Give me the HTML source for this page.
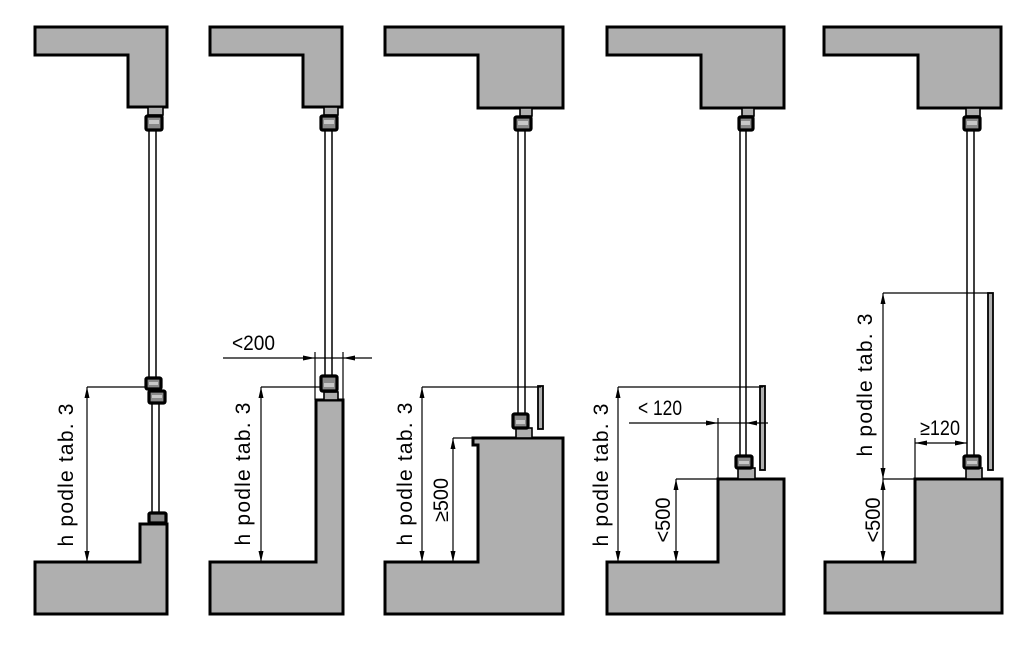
<!DOCTYPE html>
<html><head><meta charset="utf-8"><style>
html,body{margin:0;padding:0;background:#fff;}
svg{display:block;}
text{font-family:"Liberation Sans","DejaVu Sans",sans-serif;font-size:21px;fill:#000;}
</style></head><body>
<svg width="1024" height="647" viewBox="0 0 1024 647" xmlns="http://www.w3.org/2000/svg">
<g fill="#afafaf" stroke="#000" stroke-width="3" stroke-linejoin="miter">
<!-- panel 1 -->
<polygon points="35,27 167,27 167,107 128,107 128,55 35,55"/>
<polygon points="35,562 140,562 140,524 167,524 167,614 35,614"/>
<!-- panel 2 -->
<polygon points="210,27 342,27 342,107 303,107 303,55 210,55"/>
<polygon points="210,562 316,562 316,400 343,400 343,614 210,614"/>
<!-- panel 3 -->
<polygon points="385,27 563,27 563,108 478,108 478,55 385,55"/>
<polygon points="385,562 478,562 478,445 473,445 473,438 563,438 563,614 385,614"/>
<!-- panel 4 -->
<polygon points="607,27 784,27 784,108 701,108 701,55 607,55"/>
<polygon points="607,562 718,562 718,479 784,479 784,614 607,614"/>
<!-- panel 5 -->
<polygon points="824,27 1001,27 1001,108 918,108 918,55 824,55"/>
<polygon points="825,562 915,562 915,479 1002,479 1002,613 825,613"/>
</g>

<!-- glass lines -->
<g stroke="#000" stroke-width="1.5" fill="none">
<line x1="149" y1="131" x2="149" y2="377"/><line x1="156" y1="131" x2="156" y2="377"/>
<line x1="152" y1="404" x2="152" y2="513"/><line x1="159" y1="404" x2="159" y2="513"/>
<line x1="325" y1="131" x2="325" y2="376"/><line x1="332" y1="131" x2="332" y2="376"/>
<line x1="518" y1="131" x2="518" y2="414"/><line x1="525" y1="131" x2="525" y2="414"/>
<line x1="740" y1="131" x2="740" y2="456"/><line x1="746" y1="131" x2="746" y2="456"/>
<line x1="967" y1="131" x2="967" y2="456"/><line x1="974" y1="131" x2="974" y2="456"/>
</g>

<!-- frames: grey blocks -->
<g fill="#afafaf" stroke="#000" stroke-width="1.6">
<rect x="148" y="107" width="15" height="8"/>
<rect x="324" y="107" width="14" height="8"/>
<rect x="520" y="108" width="12" height="8"/>
<rect x="742" y="108" width="12" height="8"/>
<rect x="966" y="108" width="14" height="8"/>
<rect x="324" y="392" width="14" height="8"/>
<rect x="516" y="428" width="16" height="10"/>
<rect x="738" y="468" width="17" height="11"/>
<rect x="966" y="468" width="16" height="11"/>
<rect x="150" y="516" width="15" height="8"/>
</g>

<!-- sashes (dark) -->
<g fill="#8a8a8a" stroke="#000" stroke-width="3.2">
<rect x="146" y="116" width="16" height="14" rx="1.5"/>
<rect x="321" y="116" width="16" height="14" rx="1.5"/>
<rect x="515" y="117" width="16" height="13" rx="1.5"/>
<rect x="739" y="117" width="14" height="13" rx="1.5"/>
<rect x="964" y="117" width="16" height="13" rx="1.5"/>
<rect x="146" y="378" width="15" height="11" rx="1.5"/>
<rect x="149" y="391" width="16" height="12" rx="1.5"/>
<rect x="149" y="513" width="17" height="10" rx="1.5"/>
<rect x="321" y="376" width="16" height="15" rx="1.5"/>
<rect x="513" y="414" width="15" height="14" rx="1.5"/>
<rect x="736" y="456" width="16" height="12" rx="1.5"/>
<rect x="964" y="456" width="16" height="12" rx="1.5"/>
</g>
<g fill="#c8c8c8" stroke="none">
<rect x="149" y="120" width="10" height="4"/>
<rect x="324" y="120" width="10" height="4"/>
<rect x="518" y="121" width="10" height="4"/>
<rect x="741" y="121" width="9" height="4"/>
<rect x="967" y="121" width="10" height="4"/>
<rect x="149" y="382" width="9" height="3"/>
<rect x="152" y="395" width="10" height="3"/>
<rect x="324" y="383" width="10" height="4"/>
<rect x="516" y="420" width="9" height="4"/>
<rect x="739" y="461" width="10" height="3"/>
<rect x="967" y="461" width="10" height="3"/>
</g>

<!-- rails -->
<g fill="#afafaf" stroke="#000" stroke-width="1.8">
<rect x="538" y="386" width="5" height="43"/>
<rect x="760" y="386" width="5" height="84"/>
<rect x="988" y="293" width="5" height="177"/>
</g>

<!-- dimension lines -->
<g stroke="#000" stroke-width="1.2" fill="none">
<line x1="87" y1="387" x2="87" y2="562"/>
<line x1="87" y1="387" x2="146" y2="387"/>
<line x1="261" y1="387" x2="261" y2="562"/>
<line x1="261" y1="387" x2="321" y2="387"/>
<line x1="223" y1="358" x2="372" y2="358"/>
<line x1="315" y1="352" x2="315" y2="400"/>
<line x1="343" y1="352" x2="343" y2="400"/>
<line x1="422" y1="387" x2="422" y2="562"/>
<line x1="422" y1="387" x2="541" y2="387"/>
<line x1="453" y1="438" x2="453" y2="562"/>
<line x1="453" y1="438" x2="473" y2="438"/>
<line x1="618" y1="387" x2="618" y2="562"/>
<line x1="618" y1="387" x2="763" y2="387"/>
<line x1="629" y1="423" x2="768" y2="423"/>
<line x1="718" y1="418" x2="718" y2="479"/>
<line x1="676" y1="479" x2="676" y2="562"/>
<line x1="676" y1="479" x2="718" y2="479"/>
<line x1="883" y1="293" x2="883" y2="562"/>
<line x1="883" y1="293" x2="990" y2="293"/>
<line x1="883" y1="479" x2="915" y2="479"/>
<line x1="915" y1="443" x2="967" y2="443"/>
<line x1="915" y1="438" x2="915" y2="479"/>
</g>

<!-- arrowheads -->
<g fill="#000" stroke="none">
<polygon points="87,387 84.5,398 89.5,398"/>
<polygon points="87,562 84.5,551 89.5,551"/>
<polygon points="261,387 258.5,398 263.5,398"/>
<polygon points="261,562 258.5,551 263.5,551"/>
<polygon points="315,358 303,355.5 303,360.5"/>
<polygon points="343,358 355,355.5 355,360.5"/>
<polygon points="422,387 419.5,398 424.5,398"/>
<polygon points="422,562 419.5,551 424.5,551"/>
<polygon points="453,438 450.5,449 455.5,449"/>
<polygon points="453,562 450.5,551 455.5,551"/>
<polygon points="618,387 615.5,398 620.5,398"/>
<polygon points="618,562 615.5,551 620.5,551"/>
<polygon points="718,423 706,420.5 706,425.5"/>
<polygon points="746,423 757,420.5 757,425.5"/>
<polygon points="676,479 673.5,490 678.5,490"/>
<polygon points="676,562 673.5,551 678.5,551"/>
<polygon points="883,293 880.5,304 885.5,304"/>
<polygon points="883,479 880.5,468 885.5,468"/>
<polygon points="883,479 880.5,490 885.5,490"/>
<polygon points="883,562 880.5,551 885.5,551"/>
<polygon points="915,443 927,440.5 927,445.5"/>
<polygon points="967,443 955,440.5 955,445.5"/>
</g>

<!-- labels -->
<text transform="translate(73,475) rotate(-90)" text-anchor="middle" textLength="143" lengthAdjust="spacing">h podle tab. 3</text>
<text transform="translate(250,474) rotate(-90)" text-anchor="middle" textLength="143" lengthAdjust="spacing">h podle tab. 3</text>
<text transform="translate(412,474) rotate(-90)" text-anchor="middle" textLength="143" lengthAdjust="spacing">h podle tab. 3</text>
<text transform="translate(608,475) rotate(-90)" text-anchor="middle" textLength="143" lengthAdjust="spacing">h podle tab. 3</text>
<text transform="translate(872,385) rotate(-90)" text-anchor="middle" textLength="143" lengthAdjust="spacing">h podle tab. 3</text>

<text transform="translate(448,500) rotate(-90)" text-anchor="middle" textLength="44" lengthAdjust="spacingAndGlyphs">≥500</text>
<text transform="translate(670,520) rotate(-90)" text-anchor="middle" textLength="45" lengthAdjust="spacingAndGlyphs">&lt;500</text>
<text transform="translate(880,520) rotate(-90)" text-anchor="middle" textLength="45" lengthAdjust="spacingAndGlyphs">&lt;500</text>

<text x="232" y="350" textLength="43" lengthAdjust="spacingAndGlyphs">&lt;200</text>
<text x="638" y="415" textLength="44" lengthAdjust="spacingAndGlyphs">&lt; 120</text>
<text x="920" y="435" textLength="40" lengthAdjust="spacingAndGlyphs">≥120</text>
</svg>
</body></html>
